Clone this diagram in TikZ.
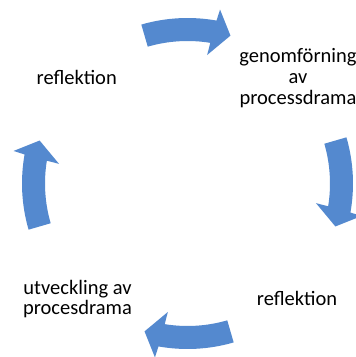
\documentclass[tikz,border=0pt]{standalone}
\usepackage{fontspec}
\setmainfont{Carlito}
\definecolor{arrowblue}{RGB}{84,137,207}
\tikzset{
  lbl/.style={inner sep=0pt, outer sep=0pt, align=center, anchor=base,
    font=\fontsize{20.5}{21}\selectfont, text=black},
  cyclearrow/.style={fill=arrowblue}
}
\newcommand{\cyclearr}[1]{%
  \fill[cyclearrow] (#1+16.2:165.5) arc[start angle=#1+16.2, end angle=#1-10.1, radius=165.5]
    -- (#1-10.6:177) -- (#1-16.2:154) -- (#1-8.7:130) -- (#1-9.2:142.5)
    arc[start angle=#1-9.2, end angle=#1+16.2, radius=142.5] -- cycle;}
\begin{document}
\begin{tikzpicture}[x=1pt,y=1pt]
\useasboundingbox (0,0) rectangle (356,357);
\clip (0,0) rectangle (356,357);
\fill[white] (0,0) rectangle (356,357);
\coordinate (C) at (187.5,173.5);
\begin{scope}[shift={(C)}]
  \cyclearr{90}
  \cyclearr{0}
  \cyclearr{-90}
  \cyclearr{180}
\end{scope}
\node[lbl] (refl1) at (76.7,272.7) {reflektion};
\node[lbl] (genom) at (298,252) {genomförning\\av\\processdrama};
\node[lbl] (refl2) at (297,52) {reflektion};
\node[lbl] (utv) at (77.5,42) {utveckling av\\procesdrama};
\end{tikzpicture}
\end{document}
